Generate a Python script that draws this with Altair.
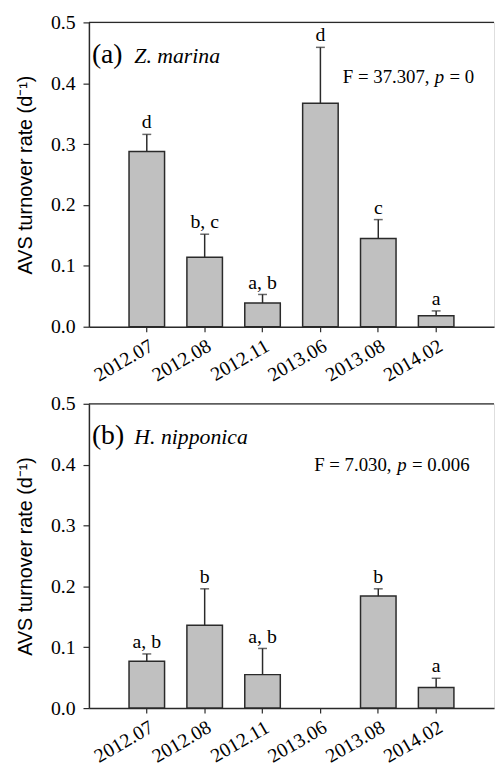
import altair as alt
import pandas as pd

dates = ["2012.07", "2012.08", "2012.11", "2013.06", "2013.08", "2014.02"]

zm_mean = [0.288, 0.114, 0.039, 0.367, 0.145, 0.018]
zm_err = [0.028, 0.038, 0.014, 0.092, 0.031, 0.008]
zm_letters = ["d", "b, c", "a, b", "d", "c", "a"]

hn_mean = [0.077, 0.136, 0.055, None, 0.184, 0.034]
hn_err = [0.012, 0.060, 0.043, None, 0.012, 0.015]
hn_letters = ["a, b", "b", "a, b", "", "b", "a"]

SERIF = "Liberation Serif"
SANS = "Liberation Sans"
DARK = "#2a2a2a"


def make_df(means, errs, letters):
    rows = []
    for d, m, e, l in zip(dates, means, errs, letters):
        if m is None:
            continue
        rows.append({"date": d, "mean": m, "top": m + e, "letter": l})
    return pd.DataFrame(rows)


def panel(df, tag, species, fparts, fy):
    x = alt.X(
        "date:N",
        scale=alt.Scale(domain=dates, paddingInner=0.386, paddingOuter=0.693),
        axis=alt.Axis(
            title=None, labelAngle=-30, labelFont=SERIF, labelFontSize=20,
            labelColor="black", tickSize=5, tickColor=DARK, domainColor=DARK,
            domainWidth=1.5, tickWidth=1.2, labelPadding=4,
        ),
    )
    y = alt.Y(
        "mean:Q",
        scale=alt.Scale(domain=[0, 0.5], nice=False),
        axis=alt.Axis(
            title="AVS turnover rate (d\u207b\u00b9)", values=[0, 0.1, 0.2, 0.3, 0.4, 0.5],
            format=".1f", labelFont=SERIF, labelFontSize=20, labelColor="black",
            titleFont=SANS, titleFontSize=20, titleFontWeight="normal", titleColor="black",
            tickSize=6, tickColor=DARK, domainColor=DARK, domainWidth=1.5, tickWidth=1.2,
            labelPadding=8, titlePadding=15, grid=False,
        ),
    )
    base = alt.Chart(df)
    bars = base.mark_bar(fill="#c0c0c0", stroke=DARK, strokeWidth=1.5).encode(x=x, y=y)
    rule = base.mark_rule(color=DARK, strokeWidth=1.5).encode(x=x, y="mean:Q", y2="top:Q")
    cap = base.mark_tick(color=DARK, thickness=1.5, size=9).encode(x=x, y="top:Q")
    letters = base.mark_text(font=SERIF, fontSize=20, baseline="alphabetic", dy=-6, color="black").encode(
        x=x, y="top:Q", text="letter:N"
    )
    top_line = alt.Chart(pd.DataFrame({"t": [0]})).mark_rule(color=DARK, strokeWidth=1.3).encode(
        x=alt.value(0), x2=alt.value(410), y=alt.value(0)
    )
    ann_df = pd.DataFrame({"t": [tag]})
    tag_t = alt.Chart(ann_df).mark_text(font=SERIF, fontSize=28, align="left", baseline="alphabetic", color="black").encode(
        x=alt.value(3), y=alt.value(41), text="t:N"
    )
    sp_t = alt.Chart(pd.DataFrame({"t": [species]})).mark_text(
        font=SERIF, fontSize=22, fontStyle="italic", align="left", baseline="alphabetic", color="black"
    ).encode(x=alt.value(46), y=alt.value(41), text="t:N")
    f_layers = []
    for txt, xp, ital in fparts:
        f_layers.append(
            alt.Chart(pd.DataFrame({"t": [txt]})).mark_text(
                font=SERIF, fontSize=19, fontStyle="italic" if ital else "normal",
                align="left", baseline="alphabetic", color="black",
            ).encode(x=alt.value(xp), y=alt.value(fy), text="t:N")
        )
    return alt.layer(bars, rule, cap, letters, top_line, tag_t, sp_t, *f_layers).properties(width=410, height=308)


a = panel(
    make_df(zm_mean, zm_err, zm_letters), "(a)", "Z. marina",
    [("F = 37.307,", 257, False), ("p", 350, True), ("= 0", 365, False)], 61,
)
b = panel(
    make_df(hn_mean, hn_err, hn_letters), "(b)", "H. nipponica",
    [("F = 7.030,", 228, False), ("p", 312, True), ("= 0.006", 327, False)], 68,
)

chart = alt.vconcat(a, b, spacing=7).properties(
    padding={"left": 15, "top": 7, "right": 0, "bottom": 0},
).configure_view(stroke="transparent").configure(background="white")

chart.save("out.html", embed_options={"renderer": "svg", "actions": False})
